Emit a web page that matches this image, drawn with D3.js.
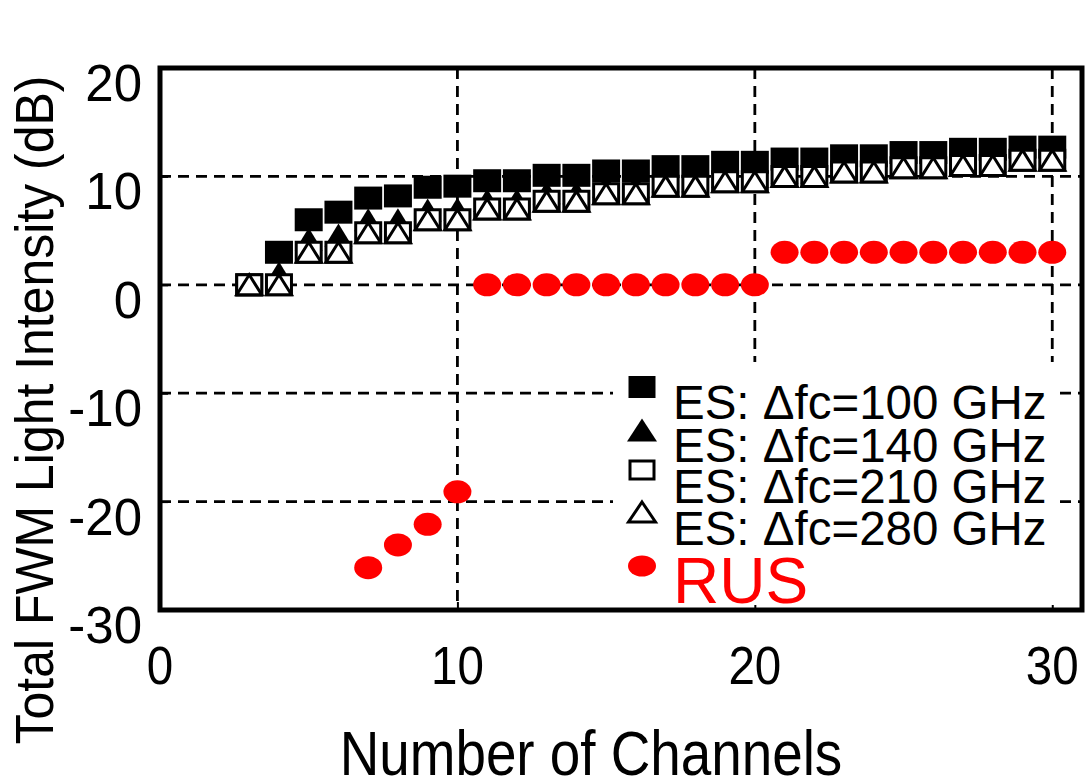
<!DOCTYPE html>
<html><head><meta charset="utf-8">
<script src="https://cdn.jsdelivr.net/npm/d3@7"></script>
<style>
body{margin:0;background:#fff}
svg{display:block}
text{font-family:"Liberation Sans",Arial,Helvetica,sans-serif}
</style>
</head><body>
<svg id="c" width="1089" height="783"></svg>
<script>
// ---------- data ----------
const channels = [3,4,5,6,7,8,9,10,11,12,13,14,15,16,17,18,19,20,21,22,23,24,25,26,27,28,29,30];
const es100 = [0,3.0,6.0,6.7,8.0,8.2,9.0,9.1,9.6,9.6,10.1,10.1,10.5,10.5,10.9,10.9,11.3,11.3,11.6,11.6,11.9,11.9,12.2,12.2,12.5,12.5,12.7,12.7];
const es140 = [0,1.1,4.2,4.6,6.0,6.0,6.9,7.0,7.8,7.8,8.5,8.5,9.1,9.1,9.6,9.6,10.0,10.0,10.4,10.4,10.8,10.8,11.1,11.1,11.4,11.4,11.8,11.8];
const es210 = [0,0,3.0,3.0,4.8,4.8,6.0,6.0,7.0,7.0,7.7,7.7,8.4,8.4,9.1,9.1,9.5,9.5,10.0,10.0,10.4,10.4,10.8,10.8,11.0,11.0,11.5,11.5];
const es280 = [0,0,3.0,3.0,4.8,4.8,6.0,6.0,7.0,7.0,7.7,7.7,8.4,8.4,9.1,9.1,9.5,9.5,10.0,10.0,10.4,10.4,10.8,10.8,11.0,11.0,11.5,11.5];
const rusChannels = [7,8,9,10,11,12,13,14,15,16,17,18,19,20,21,22,23,24,25,26,27,28,29,30];
const rus = [-26.1,-24.0,-22.1,-19.1,0,0,0,0,0,0,0,0,0,0,3.0,3.0,3.0,3.0,3.0,3.0,3.0,3.0,3.0,3.0];
const xTicks = [0,10,20,30];
const yTicks = [-30,-20,-10,0,10,20];
const gridX = [10,20,30];
const gridY = [-20,-10,0,10];
const legendLabels = ["ES: \u0394fc=100 GHz","ES: \u0394fc=140 GHz","ES: \u0394fc=210 GHz","ES: \u0394fc=280 GHz","RUS"];
const xTitle = "Number of Channels";
const yTitle = "Total FWM Light Intensity (dB)";

// ---------- layout ----------
const L=160, R=1082, T=68, B=610;
const svg = d3.select("#c");
const x = d3.scaleLinear().domain([0,31]).range([L, R]);
const y = d3.scaleLinear().domain([-30,20]).range([B,T]);
const MW=28, MH=23;

// grid
const g = svg.append("g");
g.selectAll("line.gx").data(gridX).enter().append("line")
  .attr("x1",d=>x(d)).attr("x2",d=>x(d)).attr("y1",T).attr("y2",B)
  .attr("stroke","#000").attr("stroke-width",2.8).attr("stroke-dasharray","11,7");
g.selectAll("line.gy").data(gridY).enter().append("line")
  .attr("x1",L).attr("x2",R).attr("y1",d=>y(d)).attr("y2",d=>y(d))
  .attr("stroke","#000").attr("stroke-width",2.8).attr("stroke-dasharray","11,7");

// inner ticks via axes
svg.append("g").attr("transform",`translate(0,${B})`)
  .call(d3.axisBottom(x).tickValues(xTicks).tickSize(-8).tickFormat(""))
  .call(a=>{a.select(".domain").remove();a.selectAll("line").attr("stroke","#000").attr("stroke-width",2);});
svg.append("g").attr("transform",`translate(${L},0)`)
  .call(d3.axisLeft(y).tickValues(yTicks).tickSize(-8).tickFormat(""))
  .call(a=>{a.select(".domain").remove();a.selectAll("line").attr("stroke","#000").attr("stroke-width",2);});

// marker helpers
function sqPath(cx,cy,w,h){return `M${cx-w/2},${cy-h/2}h${w}v${h}h${-w}Z`;}
function triPath(cx,cy,w,h){return `M${cx},${cy-h/2}L${cx+w/2},${cy+h/2}L${cx-w/2},${cy+h/2}Z`;}

const pts = (vals)=>channels.map((c,i)=>({c,v:vals[i]}));
const m = svg.append("g");
m.selectAll("path.s100").data(pts(es100)).enter().append("path")
  .attr("d",d=>sqPath(x(d.c),y(d.v),MW,MH)).attr("fill","#000");
m.selectAll("path.t140").data(pts(es140)).enter().append("path")
  .attr("d",d=>triPath(x(d.c),y(d.v),MW,MH)).attr("fill","#000");
m.selectAll("path.s210").data(pts(es210)).enter().append("path")
  .attr("d",d=>sqPath(x(d.c),y(d.v),MW-3,MH-3)).attr("fill","#fff").attr("stroke","#000").attr("stroke-width",3);
m.selectAll("path.t280").data(pts(es280)).enter().append("path")
  .attr("d",d=>triPath(x(d.c),y(d.v),MW-3,MH-3)).attr("fill","#fff").attr("stroke","#000").attr("stroke-width",3);
m.selectAll("ellipse.rus").data(rusChannels.map((c,i)=>({c,v:rus[i]}))).enter().append("ellipse")
  .attr("cx",d=>x(d.c)).attr("cy",d=>y(d.v)).attr("rx",14).attr("ry",11.5).attr("fill","#ff0000");

// legend
const lg = svg.append("g");
lg.append("rect").attr("x",613).attr("y",362).attr("width",444).attr("height",243).attr("fill","#fff");
const lx=642, ly=[387,430,470,512,566], lb=[419,462,503,545,603];
lg.append("path").attr("d",sqPath(lx,ly[0],27,22)).attr("fill","#000");
lg.append("path").attr("d",triPath(lx,ly[1],30,23)).attr("fill","#000");
lg.append("path").attr("d",sqPath(lx,ly[2],24,18)).attr("fill","#fff").attr("stroke","#000").attr("stroke-width",3);
lg.append("path").attr("d",triPath(lx,ly[3],27,20)).attr("fill","#fff").attr("stroke","#000").attr("stroke-width",3);
lg.append("ellipse").attr("cx",lx).attr("cy",ly[4]).attr("rx",14).attr("ry",10.5).attr("fill","#ff0000");
lg.selectAll("text").data(legendLabels).enter().append("text")
  .attr("x",673).attr("y",(d,i)=>lb[i])
  .attr("font-size",(d,i)=>i===4?64:47.5)
  .attr("fill",(d,i)=>i===4?"#ff0000":"#000")
  .text(d=>d);

// frame
svg.append("rect").attr("x",L).attr("y",T).attr("width",R-L).attr("height",B-T)
  .attr("fill","none").attr("stroke","#000").attr("stroke-width",5);

// tick labels
svg.selectAll("text.yl").data(yTicks).enter().append("text")
  .attr("x",142).attr("y",d=>y(d)+33).attr("text-anchor","end").attr("font-size",51).text(d=>d);
svg.selectAll("text.xl").data(xTicks).enter().append("text")
  .attr("transform",d=>`translate(${x(d)},684) scale(0.88,1)`)
  .attr("text-anchor","middle").attr("font-size",54).text(d=>d);

// titles
svg.append("text").attr("transform","translate(591,775) scale(0.87,1)")
  .attr("text-anchor","middle").attr("font-size",63).text(xTitle);
svg.append("text").attr("transform","translate(53,410) rotate(-90) scale(0.925,1)")
  .attr("text-anchor","middle").attr("font-size",54).text(yTitle);
</script>
</body></html>
